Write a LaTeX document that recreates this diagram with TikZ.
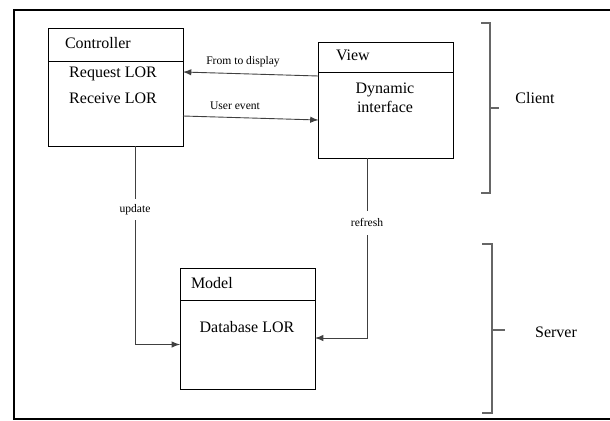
\documentclass[tikz,border=0pt]{standalone}
\usepackage{fontspec}
\setmainfont{Liberation Serif}
\usetikzlibrary{positioning}
\begin{document}
\begin{tikzpicture}[x=0.5pt,y=0.5pt,inner sep=0pt,outer sep=0pt,>=latex,
font=\fontsize{8}{9.5}\selectfont,
headbox/.style={draw,rectangle,minimum width=67.5pt,minimum height=#1,line width=0.5pt},
bodybox/.style={draw,rectangle,minimum width=67.5pt,minimum height=#1,line width=0.5pt},
flow/.style={->,draw=black!75,line width=0.45pt},
lbl/.style={font=\fontsize{5.8}{7}\selectfont,fill=white,inner sep=2.5pt},
brace/.style={draw=black!60,line width=0.7pt}]
\useasboundingbox (0,0) rectangle (610,420);
\draw[line width=1pt] (610,410) -| (14,1) -- (610,1);

\draw (115.5,375.5) node[headbox=16.5pt] (ctrlhead) {};
\node[bodybox=42.5pt,below=0pt of ctrlhead] (ctrl) {};
\draw (386,363) node[headbox=15pt] (viewhead) {};
\node[bodybox=43pt,below=0pt of viewhead] (view) {};
\draw (247.5,136) node[headbox=16pt] (modelhead) {};
\node[bodybox=44.5pt,below=0pt of modelhead] (model) {};

\draw (65,377) node[anchor=west] {Controller};
\draw (336,365) node[anchor=west] {View};
\draw (191,137) node[anchor=west] {Model};
\draw (113,335) node[align=center,font=\fontsize{8}{13}\selectfont] {Request LOR\\Receive LOR};
\draw (385,322.5) node[align=center] {Dynamic\\interface};
\draw (247,93) node {Database LOR};

\draw[flow] ([yshift=19.5pt]view.west) -- ([yshift=15.75pt]ctrl.east);
\draw (243,358) node[lbl] {From to display};
\draw[flow] ([yshift=-6.25pt]ctrl.east) -- ([yshift=-2.5pt]view.west);
\draw (235,314) node[lbl] {User event};
\draw[flow] ([xshift=9.75pt]ctrl.south) |- (model.west) node[lbl,pos=0.16] {update};
\draw[flow] ([xshift=-9.5pt]view.south) |- ([yshift=3.25pt]model.east) node[lbl,pos=0.18,inner ysep=4pt] {refresh};

\draw[brace] (481,397) -- (490,397) -- (490,227) -- (481,227);
\draw[brace] (490,312) -- (499,312);
\draw (535,322) node (client) {Client};
\draw[brace] (482,176) -- (492,176) -- (492,7) -- (482,7);
\draw[brace] (492,90) -- (505,90);
\draw (556,88) node (server) {Server};
\end{tikzpicture}
\end{document}
